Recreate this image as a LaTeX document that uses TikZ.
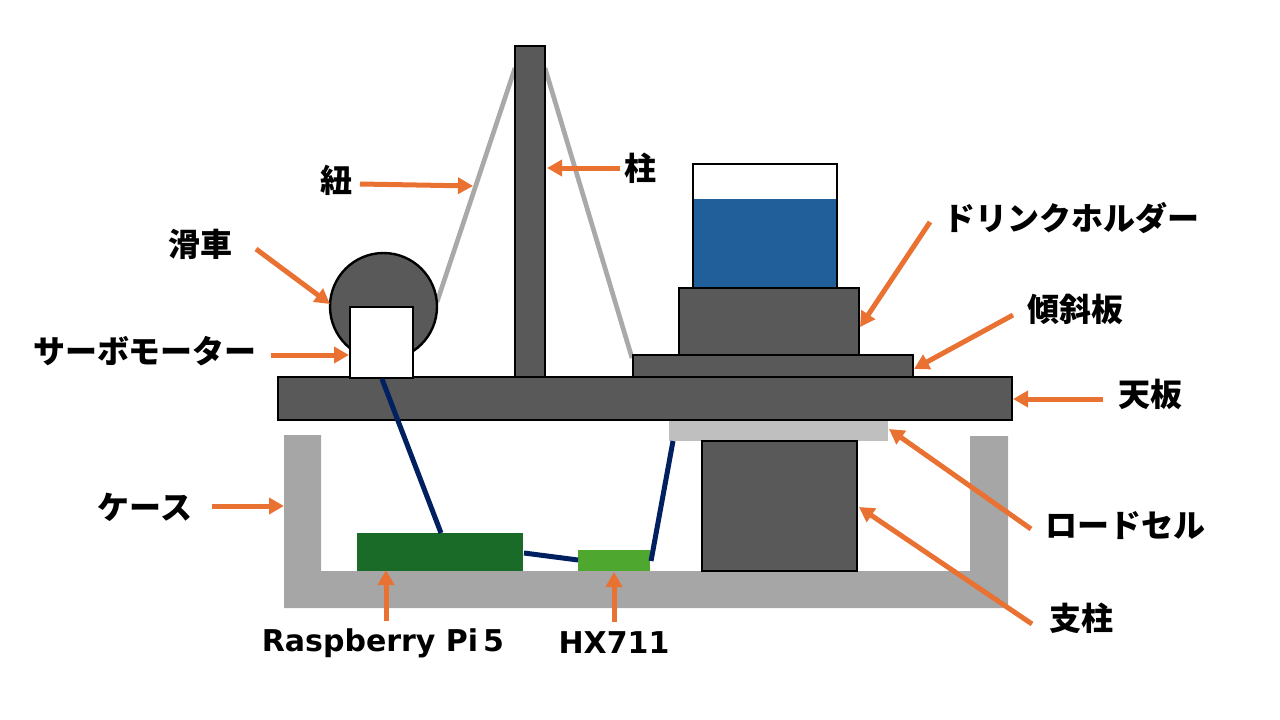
\documentclass[tikz,border=0pt]{standalone}
\usepackage{fontspec}
\setmainfont{Noto Sans CJK JP}
\newfontfamily\latinfont{DejaVu Sans}
\usepackage{tikz}
\usetikzlibrary{arrows.meta}
\definecolor{partgray}{HTML}{595959}
\definecolor{casegray}{HTML}{A6A6A6}
\definecolor{cordgray}{HTML}{A9A9A9}
\definecolor{cellgray}{HTML}{BFBFBF}
\definecolor{wireblue}{HTML}{002060}
\definecolor{waterblue}{HTML}{215F9A}
\definecolor{pigreen}{HTML}{1A6B27}
\definecolor{hxgreen}{HTML}{4EA72E}
\definecolor{callorange}{HTML}{E97132}
\tikzset{
  part/.style={draw=black, line width=2.4pt, fill=partgray},
  cord/.style={cordgray, line width=4.7pt},
  wire/.style={wireblue, line width=5pt},
  callout/.style={callorange, line width=5pt, -{Triangle[length=15pt,width=16pt]}},
  tag/.style={font=\fontsize{32}{36}\selectfont\bfseries, inner sep=0pt},
  latintag/.style={font=\fontsize{30}{36}\selectfont\latinfont\bfseries, inner sep=0pt},
}
\begin{document}
\begin{tikzpicture}[x=1pt, y=-1pt]
  \useasboundingbox (0,0) rectangle (1280,720);
  % case and boards
  \fill[casegray] (284,435) -- (321,435) -- (321,571) -- (970,571) -- (970,436)
    -- (1008,436) -- (1008,608) -- (284,608) -- cycle;
  \fill[pigreen] (357,533) rectangle (523,571);
  \fill[hxgreen] (578,550) rectangle (650,571);
  % cords
  \draw[cord] (437,302) -- (515,68);
  \draw[cord] (545,68) -- (632,358);
  % drink holder stack
  \draw[part, fill=white] (693,164) rectangle (837,288);
  \fill[waterblue] (694,199) rectangle (836,288);
  \draw[part] (679,288) rectangle (859,355);
  \draw[part] (633,355) rectangle (913,377);
  % pole, pulley, top plate
  \draw[part] (515,46) rectangle (545,378);
  \draw[part] (383.5,306.5) circle (53.5);
  \draw[part] (278,377) rectangle (1012,420);
  \fill[cellgray] (669,421) rectangle (888,441);
  \draw[part] (702,441) rectangle (857,571);
  \draw[part, fill=white] (350,307) rectangle (413,378);
  % wires
  \draw[wire] (382,379) -- (441,533);
  \draw[wire] (524,553) -- (578,560);
  \draw[wire] (651,561) -- (673,441);
  % labels
  \node[tag] (pulley) at (200,244) {滑車};
  \node[tag] (servo) at (145,351) {サーボモーター};
  \node[tag] (cord) at (336,180) {紐};
  \node[tag] (pole) at (640,168) {柱};
  \node[tag] (holder) at (1071,218) {ドリンクホルダー};
  \node[tag] (tilt) at (1075,309) {傾斜板};
  \node[tag] (plate) at (1150,394) {天板};
  \node[tag] (loadcell) at (1125,526) {ロードセル};
  \node[tag] (strut) at (1081,618) {支柱};
  \node[tag] (case) at (145,507) {ケース};
  \node[latintag] (raspi) at (383,643) {Raspberry Pi\,5};
  \node[latintag] (hx) at (614,643) {HX711};
  % callouts
  \foreach \name/\xa/\ya/\xb/\yb in {pulley/256/249/330/304, servo/271/355/349/355,
      cord/360/184/473/186, pole/620/168/547/168, holder/930/222/860/327,
      tilt/1013/315/914/369, plate/1103/399/1013/399, loadcell/1031/529/889/429,
      strut/1032/624/859/507, case/212/506/284/506, raspi/386/621/386/570,
      hx/614/622/614/572} {
    \coordinate (\name from) at (\xa,\ya);
    \coordinate (\name to) at (\xb,\yb);
    \draw[callout] (\name from) -- (\name to);
  }
\end{tikzpicture}
\end{document}
